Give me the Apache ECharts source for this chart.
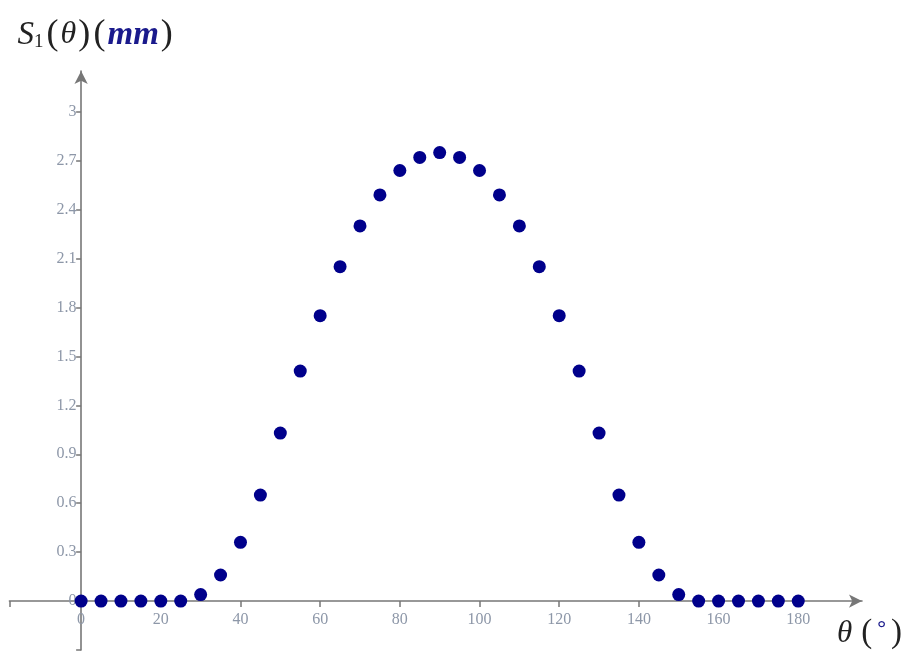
<!DOCTYPE html>
<html>
<head>
<meta charset="utf-8">
<title>S1(theta)</title>
<script src="https://cdn.jsdelivr.net/npm/echarts@6/dist/echarts.min.js"></script>
<style>
  html, body { margin: 0; padding: 0; background: #fff; }
  #chart { width: 908px; height: 652px; }
</style>
</head>
<body>
<div id="chart"></div>
<script>
// theta in degrees, S1 in mm
const theta = [0, 5, 10, 15, 20, 25, 30, 35, 40, 45, 50, 55, 60, 65, 70, 75, 80, 85, 90,
  95, 100, 105, 110, 115, 120, 125, 130, 135, 140, 145, 150, 155, 160, 165, 170, 175, 180];
const s1 = [0, 0, 0, 0, 0, 0, 0.04, 0.16, 0.36, 0.65, 1.03, 1.41, 1.75, 2.05, 2.30, 2.49, 2.64, 2.72, 2.75,
  2.72, 2.64, 2.49, 2.30, 2.05, 1.75, 1.41, 1.03, 0.65, 0.36, 0.16, 0.04, 0, 0, 0, 0, 0, 0];

const xLabels = [0, 20, 40, 60, 80, 100, 120, 140, 160, 180];
const yLabels = [0, 0.3, 0.6, 0.9, 1.2, 1.5, 1.8, 2.1, 2.4, 2.7, 3];

const xMin = -18, xMax = 196;
const yMin = -0.3, yMax = 3.25;

const axisColor = "#777777";
const labelColor = "#8d97a8";
const serif = "Liberation Serif";

const chart = echarts.init(document.getElementById("chart"));

// labels stay at the grid edge in v6, so pull them back to the crossing axes
const option = {
  animation: false,
  grid: {
    left: 9.4,
    right: 908 - 862,
    top: 71,
    bottom: 2,
    containLabel: false,
    outerBoundsMode: "none",
  },
  xAxis: {
    type: "value",
    min: xMin,
    max: xMax,
    splitLine: { show: false },
    axisLine: {
      onZero: true,
      symbol: ["none", "arrow"],
      symbolSize: [10, 13],
      lineStyle: { color: axisColor, width: 1.6 },
    },
    axisTick: {
      customValues: [xMin].concat(xLabels.slice(1)),
      length: 6,
      lineStyle: { color: axisColor, width: 1.5 },
    },
    axisLabel: {
      customValues: xLabels,
      color: labelColor,
      fontFamily: serif,
      fontSize: 16,
      margin: -38,
    },
    name: "{t|θ}{p|(}{d|°}{p|)}",
    nameLocation: "end",
    nameGap: 40,
    nameTextStyle: {
      align: "right",
      verticalAlign: "top",
      padding: [16, 0, 0, 0],
      rich: {
        t: { fontFamily: serif, fontStyle: "italic", fontSize: 31, color: "#222", padding: [0, 9, 0, 0] },
        p: { fontFamily: serif, fontSize: 33, color: "#222" },
        d: { fontFamily: serif, fontSize: 22, color: "#1a1a8c", fontWeight: "bold", padding: [0, 5, 8, 5] },
      },
    },
  },
  yAxis: {
    type: "value",
    min: yMin,
    max: yMax,
    splitLine: { show: false },
    axisLine: {
      onZero: true,
      symbol: ["none", "arrow"],
      symbolSize: [10, 13],
      lineStyle: { color: axisColor, width: 1.6 },
    },
    axisTick: {
      customValues: [yMin].concat(yLabels.slice(1)),
      length: 5,
      lineStyle: { color: axisColor, width: 1.5 },
    },
    axisLabel: {
      customValues: yLabels,
      color: labelColor,
      fontFamily: serif,
      fontSize: 16,
      margin: -67,
    },
    name: "{s|S}{sub|1}{p|(}{t|θ}{p|)}{sp| }{p|(}{m|mm}{p|)}",
    nameLocation: "end",
    nameGap: 18,
    nameTextStyle: {
      align: "center",
      padding: [0, 0, 0, 28],
      rich: {
        s: { fontFamily: serif, fontStyle: "italic", fontSize: 33, color: "#222" },
        sub: { fontFamily: serif, fontSize: 19, color: "#222", padding: [14, 3, 0, 0] },
        t: { fontFamily: serif, fontStyle: "italic", fontSize: 32, color: "#222", padding: [0, 2, 0, 2] },
        p: { fontFamily: serif, fontSize: 36, color: "#222" },
        sp: { fontSize: 12 },
        m: { fontFamily: serif, fontStyle: "italic", fontWeight: "bold", fontSize: 33, color: "#1a1a8c", padding: [0, 2, 0, 2] },
      },
    },
  },
  series: [
    {
      type: "scatter",
      data: theta.map((t, i) => [t, s1[i]]),
      symbol: "circle",
      symbolSize: 13,
      itemStyle: { color: "#00008b", opacity: 1 },
    },
  ],
};

chart.setOption(option);
</script>
</body>
</html>
